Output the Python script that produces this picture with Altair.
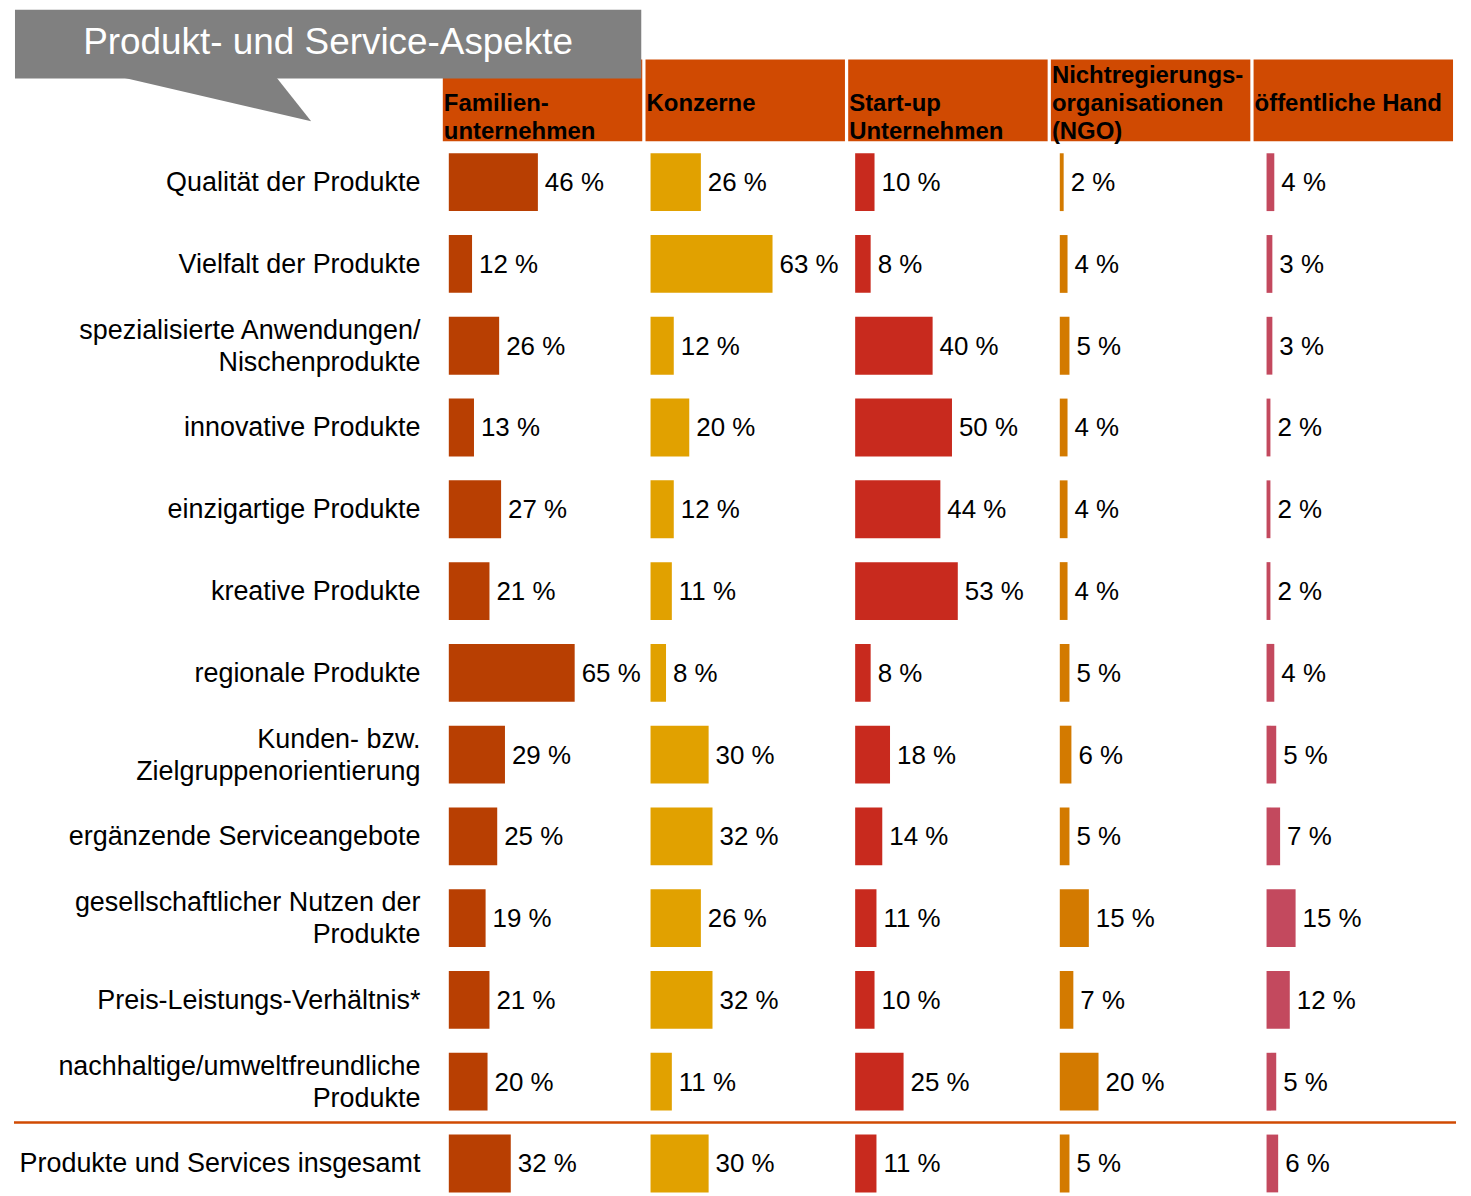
import altair as alt

# ---------------- data ----------------
title_text = "Produkt- und Service-Aspekte"

rows = [
    "Qualität der Produkte",
    "Vielfalt der Produkte",
    "spezialisierte Anwendungen/|Nischenprodukte",
    "innovative Produkte",
    "einzigartige Produkte",
    "kreative Produkte",
    "regionale Produkte",
    "Kunden- bzw.|Zielgruppenorientierung",
    "ergänzende Serviceangebote",
    "gesellschaftlicher Nutzen der|Produkte",
    "Preis-Leistungs-Verhältnis*",
    "nachhaltige/umweltfreundliche|Produkte",
    "Produkte und Services insgesamt",
]

headers = [
    ["Familien-", "unternehmen"],
    ["Konzerne"],
    ["Start-up", "Unternehmen"],
    ["Nichtregierungs-", "organisationen", "(NGO)"],
    ["öffentliche Hand"],
]

familien = [46, 12, 26, 13, 27, 21, 65, 29, 25, 19, 21, 20, 32]
konzerne = [26, 63, 12, 20, 12, 11, 8, 30, 32, 26, 32, 11, 30]
startup = [10, 8, 40, 50, 44, 53, 8, 18, 14, 11, 10, 25, 11]
ngo = [2, 4, 5, 4, 4, 4, 5, 6, 5, 15, 7, 20, 5]
oeffentlich = [4, 3, 3, 2, 2, 2, 4, 5, 7, 15, 12, 5, 6]

series = [familien, konzerne, startup, ngo, oeffentlich]

# ---------------- styles ----------------
FONT = "Liberation Sans"
bar_colors = ["#B83F02", "#E1A100", "#C82A1E", "#D37A00", "#C3495E"]
HEAD_COLOR = "#D04A02"
BANNER_COLOR = "#808080"
domain_min = [-3.1, -2.6, -3.6, -4.6, -6.7]
SPAN = 103
PW = 200
STEP = 82
HEAD_KEY = "HEAD"
y_domain = [HEAD_KEY] + rows
PH = STEP * len(y_domain)
HEAD_LINES = 3


def panel(i):
    vals = [
        {"row": r, "value": v, "label": f"{v} %"} for r, v in zip(rows, series[i])
    ]
    if i == 0:
        axis = alt.Axis(
            domain=False, ticks=False, grid=False, title=None,
            labelExpr=f"datum.value == '{HEAD_KEY}' ? '' : split(datum.value, '|')",
            labelFont=FONT, labelFontSize=27, labelColor="#000000",
            labelLineHeight=32, labelLimit=480, labelPadding=23, labelAlign="right",
            labelOffset={"condition": {"test": "indexof(datum.value, '|') >= 0", "value": -15},
                         "value": 1},
        )
    else:
        axis = None
    yscale = alt.Scale(domain=y_domain, paddingInner=0, paddingOuter=0)
    y_enc = alt.Y("row:N", scale=yscale, axis=axis, sort=y_domain)
    xscale = alt.Scale(domain=[domain_min[i], domain_min[i] + SPAN], nice=False, zero=False)

    bars_data = alt.Data(values=vals)
    head_lines = [""] * (HEAD_LINES - len(headers[i])) + headers[i]
    head_data = alt.Data(values=[{"row": HEAD_KEY, "head": head_lines}])

    head_rect = alt.Chart(head_data).mark_rect(color=HEAD_COLOR).encode(
        y=y_enc, x=alt.value(0), x2=alt.value(PW)
    )
    head_text = alt.Chart(head_data).mark_text(
        align="left", baseline="alphabetic", dy=24, font=FONT, fontSize=24,
        fontWeight="bold", lineHeight=28, color="#000000",
    ).encode(
        y=alt.Y("row:N", scale=yscale, axis=axis, sort=y_domain, bandPosition=0),
        x=alt.value(1),
        text="head:N",
    )
    bars = alt.Chart(bars_data).mark_bar(
        color=bar_colors[i], height={"band": 0.707}
    ).encode(
        y=y_enc,
        x=alt.X("value:Q", scale=xscale, axis=None),
    )
    labels = alt.Chart(bars_data).mark_text(
        align="left", baseline="middle", dx=7, dy=1, font=FONT, fontSize=26, color="#000000"
    ).encode(
        y=y_enc,
        x=alt.X("value:Q", scale=xscale, axis=None),
        text="label:N",
    )
    layers = [head_rect, head_text, bars, labels]

    if i == 0:
        bdata = alt.Data(values=[{"t": title_text}])
        banner = alt.Chart(bdata).mark_rect(color=BANNER_COLOR).encode(
            x=alt.value(-429), x2=alt.value(199), y=alt.value(-50), y2=alt.value(19)
        )
        tail = alt.Chart(bdata).mark_point(
            shape="M -1 -0.24 L 0.632 -0.24 L 1 0.226 Z",
            filled=True, size=36100, color=BANNER_COLOR, opacity=1, strokeWidth=0,
        ).encode(x=alt.value(-227), y=alt.value(40.5))
        btext = alt.Chart(bdata).mark_text(
            align="center", baseline="middle", font=FONT, fontSize=37, color="#FFFFFF"
        ).encode(x=alt.value(-115), y=alt.value(-17), text="t:N")
        layers += [banner, tail, btext]

    if i == len(series) - 1:
        sep_data = alt.Data(values=[{"row": rows[-1]}])
        sep = alt.Chart(sep_data).mark_rule(color=HEAD_COLOR, strokeWidth=2.5).encode(
            y=alt.Y("row:N", scale=yscale, axis=axis, sort=y_domain, bandPosition=0),
            x=alt.value(-1243), x2=alt.value(PW + 3),
        )
        layers.append(sep)

    return alt.layer(*layers).properties(width=PW, height=PH)


chart = alt.hconcat(*[panel(i) for i in range(len(series))], spacing=3.25, bounds="flush").properties(
    padding={"left": 4, "top": 0, "right": 5, "bottom": 5},
    background="#FFFFFF",
).configure_view(stroke=None)

chart.save("out.html", embed_options={"renderer": "svg", "actions": False})
